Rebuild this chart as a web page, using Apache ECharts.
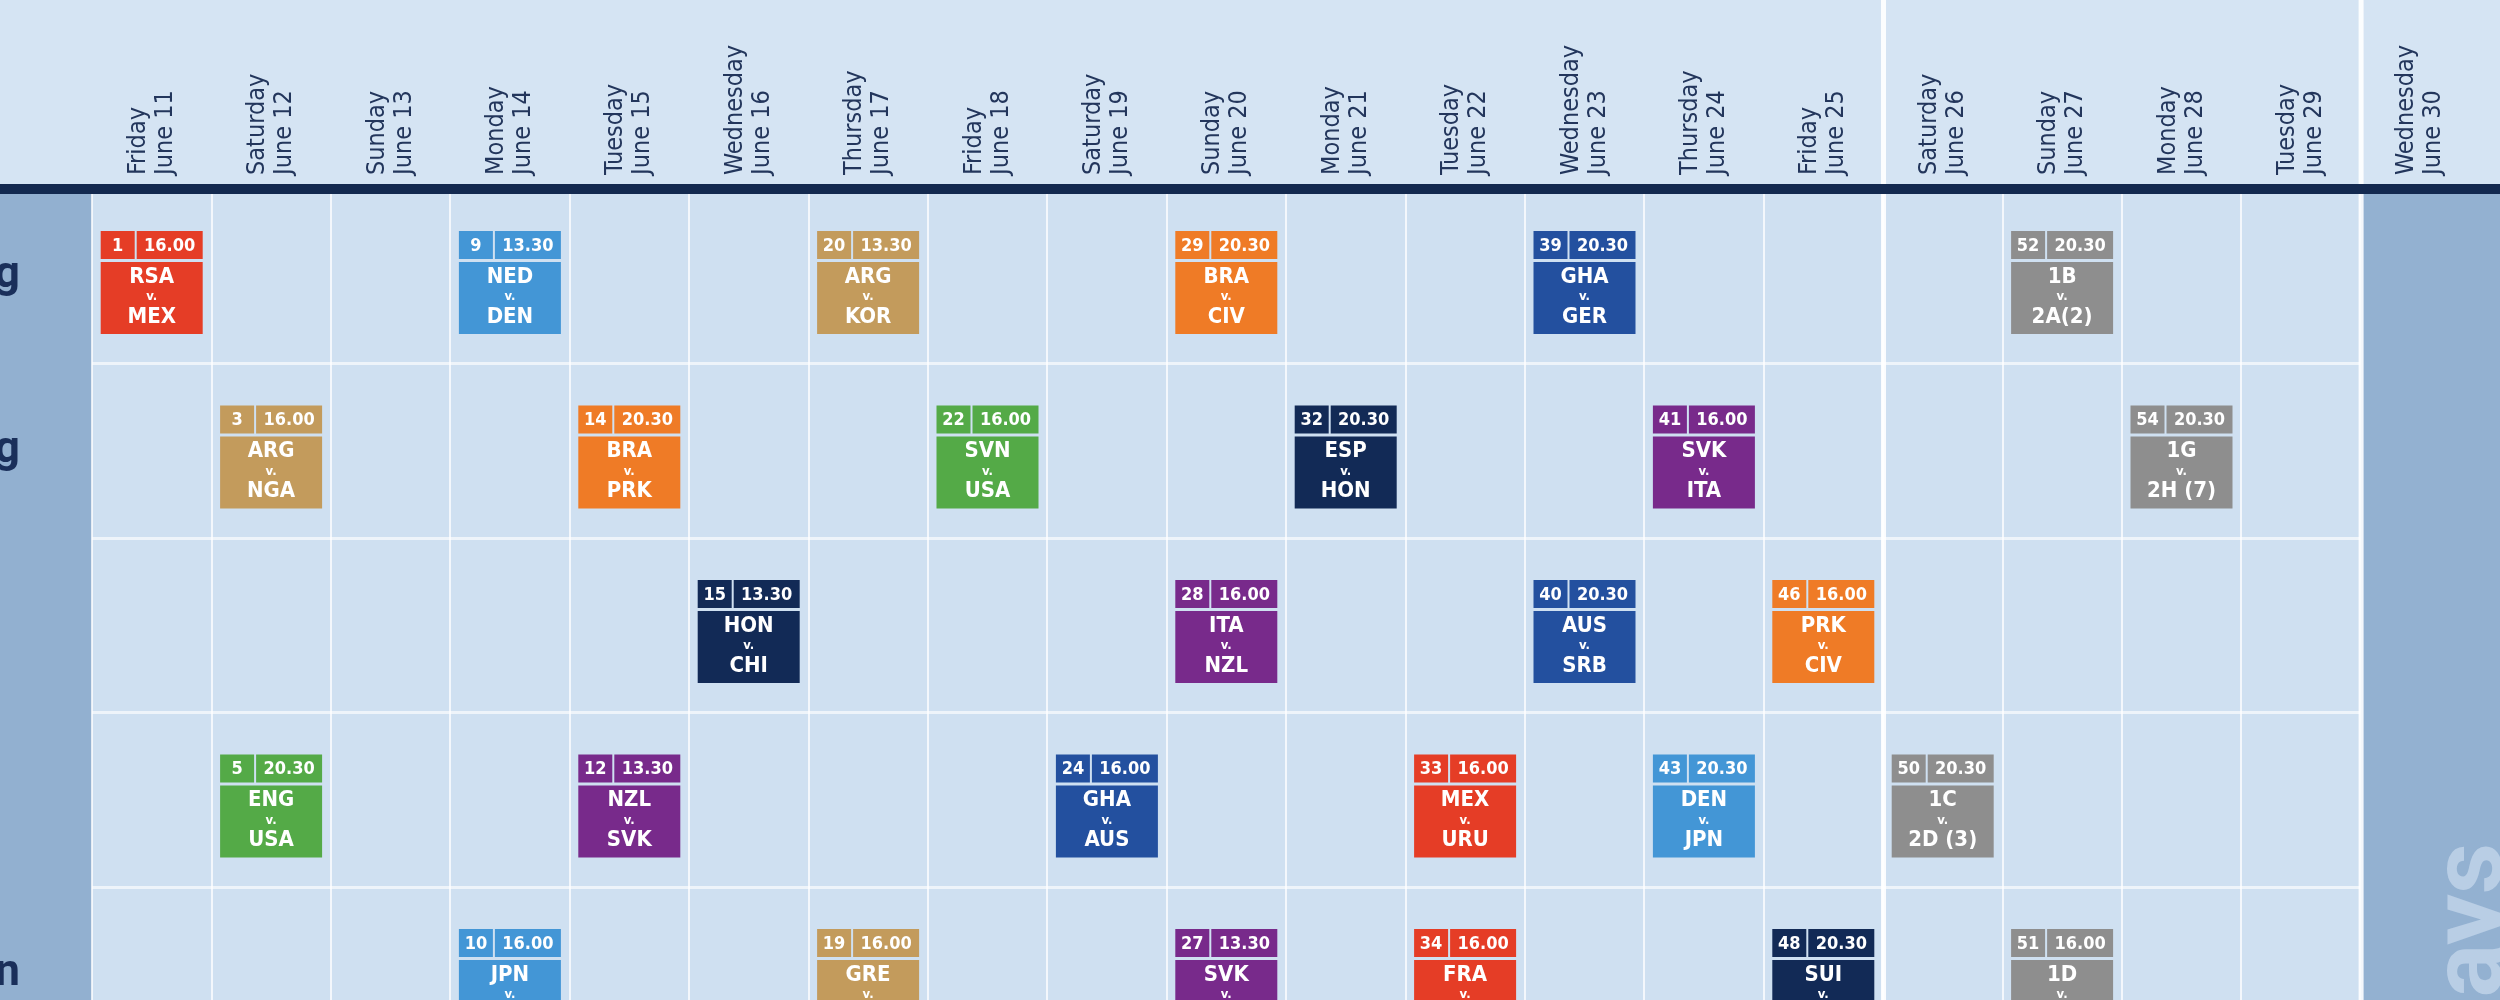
<!DOCTYPE html>
<html>
<head>
<meta charset="utf-8">
<script src="https://cdn.jsdelivr.net/npm/echarts@6/dist/echarts.min.js"></script>
<style>
  html, body { margin: 0; padding: 0; background: #d5e4f3; }
  #chart { width: 2500px; height: 1000px; }
</style>
</head>
<body>
<div id="chart"></div>
<script>
// days along the top
const days = [
    'Friday\nJune 11', 'Saturday\nJune 12', 'Sunday\nJune 13', 'Monday\nJune 14',
    'Tuesday\nJune 15', 'Wednesday\nJune 16', 'Thursday\nJune 17', 'Friday\nJune 18',
    'Saturday\nJune 19', 'Sunday\nJune 20', 'Monday\nJune 21', 'Tuesday\nJune 22',
    'Wednesday\nJune 23', 'Thursday\nJune 24', 'Friday\nJune 25', 'Saturday\nJune 26',
    'Sunday\nJune 27', 'Monday\nJune 28', 'Tuesday\nJune 29', 'Wednesday\nJune 30'
];
// venues down the side
const venues = ['Johannesburg', 'Johannesburg', 'Nelspruit', 'Rustenburg', 'Bloemfontein'];

// matches
const matchNo   = [1, 9, 20, 29, 39, 52,   3, 14, 22, 32, 41, 54,   15, 28, 40, 46,   5, 12, 24, 33, 43, 50,   10, 19, 27, 34, 48, 51];
const matchDay  = [0, 3, 6, 9, 12, 16,     1, 4, 7, 10, 13, 17,     5, 9, 12, 14,     1, 4, 8, 11, 13, 15,     3, 6, 9, 11, 14, 16];
const matchRow  = [0, 0, 0, 0, 0, 0,       1, 1, 1, 1, 1, 1,        2, 2, 2, 2,       3, 3, 3, 3, 3, 3,        4, 4, 4, 4, 4, 4];
const matchTime = ['16.00', '13.30', '13.30', '20.30', '20.30', '20.30',
                   '16.00', '20.30', '16.00', '20.30', '16.00', '20.30',
                   '13.30', '16.00', '20.30', '16.00',
                   '20.30', '13.30', '16.00', '16.00', '20.30', '20.30',
                   '16.00', '16.00', '13.30', '16.00', '20.30', '16.00'];
const home = ['RSA', 'NED', 'ARG', 'BRA', 'GHA', '1B',   'ARG', 'BRA', 'SVN', 'ESP', 'SVK', '1G',
              'HON', 'ITA', 'AUS', 'PRK',   'ENG', 'NZL', 'GHA', 'MEX', 'DEN', '1C',
              'JPN', 'GRE', 'SVK', 'FRA', 'SUI', '1D'];
const away = ['MEX', 'DEN', 'KOR', 'CIV', 'GER', '2A(2)',   'NGA', 'PRK', 'USA', 'HON', 'ITA', '2H (7)',
              'CHI', 'NZL', 'SRB', 'CIV',   'USA', 'SVK', 'AUS', 'URU', 'JPN', '2D (3)',
              'CMR', 'NGA', 'PAR', 'RSA', 'HON', '2C'];
const group = ['A', 'E', 'B', 'G', 'D', 'R',   'B', 'G', 'C', 'H', 'F', 'R',
               'H', 'F', 'D', 'G',   'C', 'F', 'D', 'A', 'E', 'R',
               'E', 'B', 'F', 'A', 'H', 'R'];

// marked columns: the stage break and the rest day
const breakDays = [15, 19];
const restDay = 19;

const groupColor = {
    A: '#e53d26', B: '#c39b5c', C: '#54aa47', D: '#23509f',
    E: '#4396d6', F: '#782a8b', G: '#ef7b26', H: '#122a56', R: '#8e8e8e'
};
const FONT = '"Liberation Sans Narrow", "DejaVu Sans Condensed", sans-serif';

const chart = echarts.init(document.getElementById('chart'));

const matchData = matchNo.map((n, i) => [matchDay[i], matchRow[i]]);

function renderMatch(params, api) {
    const i = params.dataIndex;
    const c = api.coord([api.value(0), api.value(1)]);
    const size = api.size([1, 1]);
    const color = groupColor[group[i]];
    const w = 102;
    const x = c[0] - w / 2;
    const y = c[1] - size[1] / 2 + 42;
    const hh = 28;
    const numW = 34;
    const by = y + hh + 3;
    return {
        type: 'group',
        children: [
            { type: 'rect', shape: { x: x, y: y, width: numW, height: hh }, style: { fill: color } },
            { type: 'rect', shape: { x: x + numW + 2, y: y, width: w - numW - 2, height: hh }, style: { fill: color } },
            { type: 'rect', shape: { x: x, y: by, width: w, height: 72 }, style: { fill: color } },
            { type: 'text', x: x + numW / 2, y: y + hh / 2 + 1, style: {
                text: String(matchNo[i]), fill: '#fff', font: 'bold 18px ' + FONT, align: 'center', verticalAlign: 'middle' } },
            { type: 'text', x: x + numW + 2 + (w - numW - 2) / 2, y: y + hh / 2 + 1, style: {
                text: matchTime[i], fill: '#fff', font: 'bold 18px ' + FONT, align: 'center', verticalAlign: 'middle' } },
            { type: 'text', x: c[0], y: by + 15, style: {
                text: home[i], fill: '#fff', font: 'bold 22px ' + FONT, align: 'center', verticalAlign: 'middle' } },
            { type: 'text', x: c[0], y: by + 35, style: {
                text: 'v.', fill: '#fff', font: 'bold 13px ' + FONT, align: 'center', verticalAlign: 'middle' } },
            { type: 'text', x: c[0], y: by + 55, style: {
                text: away[i], fill: '#fff', font: 'bold 22px ' + FONT, align: 'center', verticalAlign: 'middle' } }
        ]
    };
}

function renderRest(params, api) {
    const c = api.coord([api.value(0), 0]);
    const size = api.size([1, 1]);
    const x0 = c[0] - size[0] / 2;
    return {
        type: 'rect',
        shape: { x: x0, y: 194, width: 2500 - x0, height: 820 },
        style: { fill: '#93b1d1' }
    };
}

function renderBreak(params, api) {
    const c = api.coord([api.value(0), 0]);
    const size = api.size([1, 1]);
    return {
        type: 'rect',
        shape: { x: c[0] - size[0] / 2 - 2, y: 0, width: 5, height: 1000 },
        style: { fill: '#ffffff', opacity: 0.9 }
    };
}

chart.setOption({
    backgroundColor: '#d5e4f3',
    animation: false,
    grid: {
        left: 92, top: 189, width: 20 * 119.4, height: 5 * 174.5,
        outerBoundsMode: 'none', containLabel: false,
        show: true, backgroundColor: '#cfe0f1', borderWidth: 0
    },
    graphic: [
        { type: 'rect', shape: { x: 0, y: 194, width: 92, height: 820 }, style: { fill: '#92b0d0' }, z: 0 },
        { type: 'rect', shape: { x: 0, y: 184, width: 2500, height: 10 }, style: { fill: '#13294f' }, z: 20 },
        { type: 'text', x: 2476, y: 843, rotation: Math.PI / 2, z: 10, style: {
            text: 'Rest days', fill: '#b9cee5', font: 'bold 100px Roboto, sans-serif', align: 'right', verticalAlign: 'middle' } }
    ],
    xAxis: {
        type: 'category',
        position: 'top',
        data: days,
        axisLine: { show: false },
        axisTick: { show: false },
        axisLabel: {
            rotate: -90, margin: 14, interval: 0,
            fontFamily: FONT, fontSize: 25, lineHeight: 27, color: '#23365c'
        },
        splitLine: { show: true, lineStyle: { color: 'rgba(255,255,255,0.75)', width: 2 } }
    },
    yAxis: {
        type: 'category',
        inverse: true,
        data: venues.map((v, i) => (i === 2 || i === 3)
            ? { value: v, textStyle: { padding: [0, 60, 0, 0] } } : v),
        axisLine: { show: false },
        axisTick: { show: false },
        axisLabel: {
            margin: 72, align: 'right', interval: 0,
            fontFamily: 'Roboto, sans-serif', fontWeight: 'bold', fontSize: 44, color: '#1a2f5a'
        },
        splitLine: { show: true, lineStyle: { color: 'rgba(255,255,255,0.65)', width: 3 } }
    },
    series: [
        {
            type: 'custom', name: 'rest', clip: false, z: 1,
            renderItem: renderRest,
            data: [[restDay]]
        },
        {
            type: 'custom', name: 'break', clip: false, z: 3,
            renderItem: renderBreak,
            data: breakDays.map(d => [d])
        },
        {
            type: 'custom', name: 'matches', clip: false, z: 4,
            renderItem: renderMatch,
            encode: { x: 0, y: 1 },
            data: matchData
        }
    ]
});
</script>
</body>
</html>
